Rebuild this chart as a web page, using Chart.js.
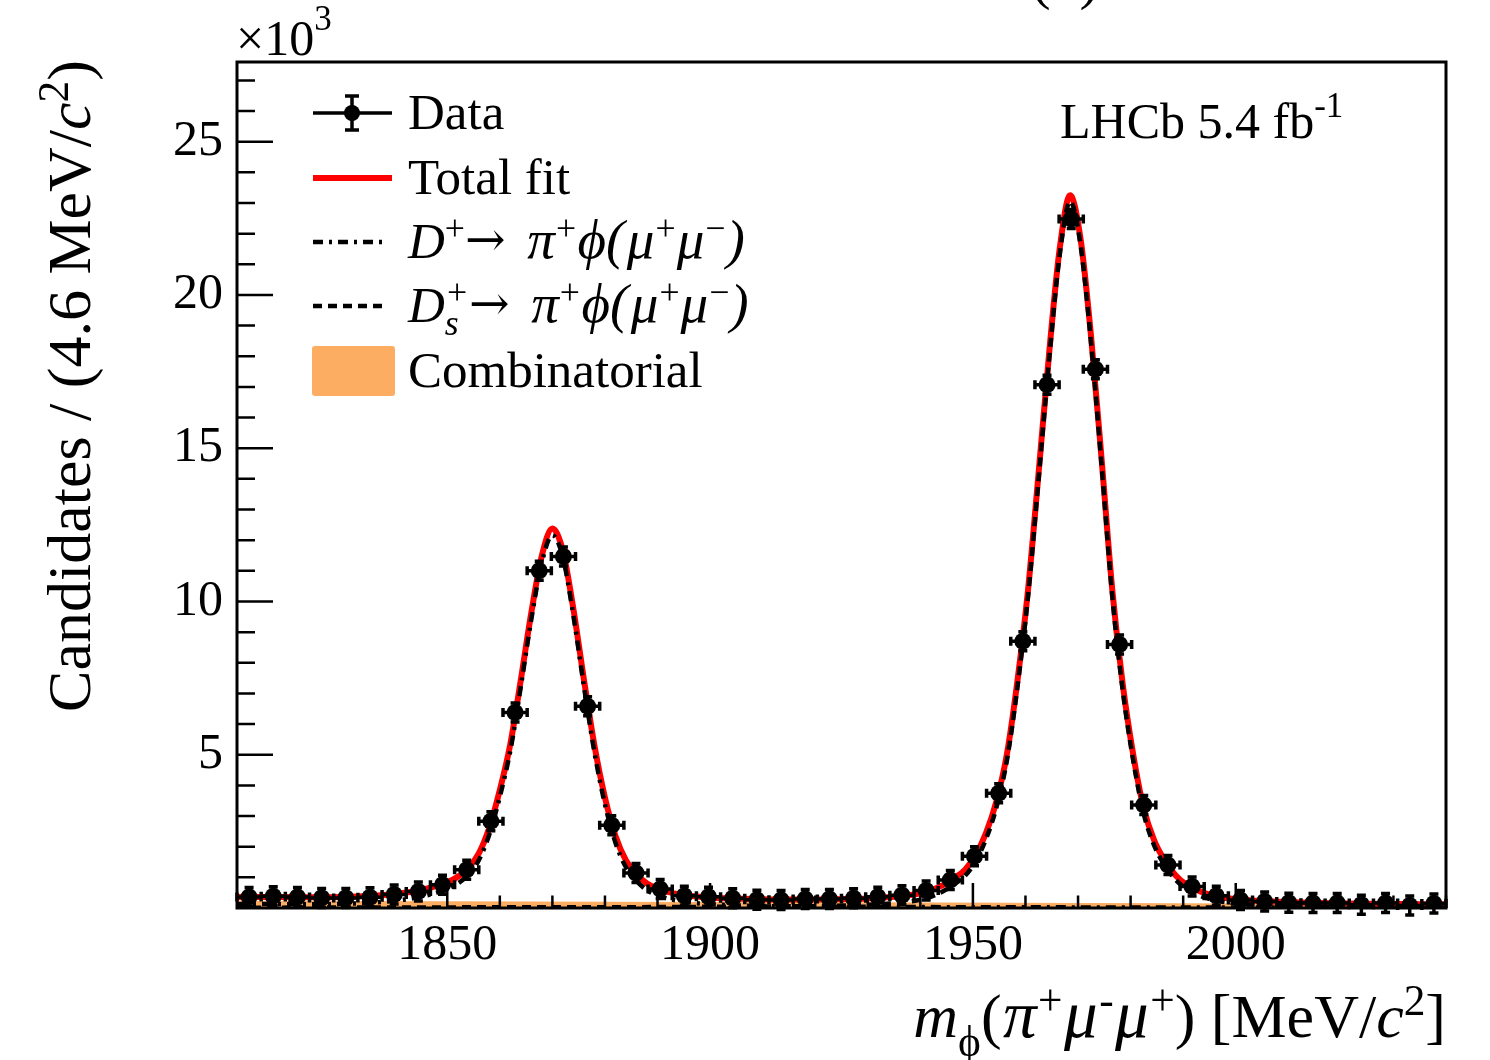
<!DOCTYPE html>
<html>
<head>
<meta charset="utf-8">
<title>m(pi mu mu) fit</title>
<script src="https://cdn.jsdelivr.net/npm/chart.js@4.4.1/dist/chart.umd.min.js"></script>
<style>
  html, body { margin: 0; padding: 0; background: #fff; }
  #wrap { width: 1490px; height: 1060px; }
</style>
</head>
<body>
<div id="wrap"><canvas id="massChart" width="1490" height="1060"></canvas></div>
<script>
// binned data (x10^3 candidates per 4.6 MeV/c2)
const binCenters = [1812.3, 1816.9, 1821.5, 1826.1, 1830.7, 1835.3, 1839.9, 1844.5, 1849.1, 1853.7,
  1858.3, 1862.9, 1867.5, 1872.1, 1876.7, 1881.3, 1885.9, 1890.5, 1895.1, 1899.7,
  1904.3, 1908.9, 1913.5, 1918.1, 1922.7, 1927.3, 1931.9, 1936.5, 1941.1, 1945.7,
  1950.3, 1954.9, 1959.5, 1964.1, 1968.7, 1973.3, 1977.9, 1982.5, 1987.1, 1991.7,
  1996.3, 2000.9, 2005.5, 2010.1, 2014.7, 2019.3, 2023.9, 2028.5, 2033.1, 2037.7];
const binHalfWidth = 2.3;
const counts = [0.36, 0.38, 0.36, 0.33, 0.33, 0.35, 0.44, 0.54, 0.76, 1.25,
  2.83, 6.38, 11.0, 11.47, 6.58, 2.70, 1.14, 0.62, 0.40, 0.37,
  0.32, 0.27, 0.26, 0.29, 0.29, 0.32, 0.37, 0.42, 0.57, 0.91,
  1.69, 3.74, 8.70, 17.07, 22.48, 17.58, 8.60, 3.36, 1.40, 0.70,
  0.40, 0.26, 0.21, 0.17, 0.16, 0.16, 0.11, 0.16, 0.08, 0.15];
const countErrors = [0.019, 0.019, 0.019, 0.018, 0.018, 0.019, 0.021, 0.023, 0.028, 0.035,
  0.053, 0.080, 0.105, 0.107, 0.081, 0.052, 0.034, 0.025, 0.020, 0.019,
  0.018, 0.016, 0.016, 0.017, 0.017, 0.018, 0.019, 0.020, 0.024, 0.030,
  0.041, 0.061, 0.093, 0.131, 0.150, 0.133, 0.093, 0.058, 0.037, 0.026,
  0.020, 0.016, 0.014, 0.013, 0.013, 0.013, 0.010, 0.013, 0.009, 0.012];

// total fit curve
const fitX = [1810, 1815, 1820, 1825, 1830, 1835, 1840, 1844, 1848, 1850,
  1852, 1854, 1856, 1858, 1860, 1862, 1864, 1866, 1868, 1870,
  1872, 1874, 1876, 1878, 1880, 1882, 1884, 1886, 1888, 1890,
  1894, 1898, 1903, 1910, 1918, 1926, 1932, 1937, 1941, 1944.5,
  1946.5, 1948.5, 1950.5, 1952.5, 1954.5, 1956.5, 1958.5, 1960.5, 1962.5, 1964.5,
  1966.5, 1968.5, 1970.5, 1972.5, 1974.5, 1976.5, 1978.5, 1980.5, 1982.5, 1984.5,
  1986.5, 1988.5, 1990.5, 1993.5, 1997, 2002, 2008, 2016, 2024, 2032,
  2040];
const totalFit = [0.36, 0.36, 0.355, 0.35, 0.36, 0.39, 0.46, 0.55, 0.72, 0.84,
  1.02, 1.30, 1.78, 2.62, 3.85, 5.35, 7.45, 9.65, 11.50, 12.38,
  11.65, 9.75, 7.45, 5.30, 3.60, 2.35, 1.55, 1.10, 0.80, 0.63,
  0.45, 0.37, 0.32, 0.285, 0.275, 0.29, 0.33, 0.40, 0.52, 0.76,
  0.98, 1.25, 1.72, 2.45, 3.50, 5.05, 7.45, 10.4, 14.2, 18.1,
  21.5, 23.25, 21.8, 18.6, 14.6, 10.4, 7.3, 5.0, 3.25, 2.2,
  1.55, 1.08, 0.78, 0.52, 0.36, 0.26, 0.20, 0.16, 0.14, 0.13,
  0.12];

// D+ component
const dpX = [1810, 1815, 1820, 1825, 1830, 1835, 1840, 1844, 1848, 1850,
  1852, 1854, 1856, 1858, 1860, 1862, 1864, 1866, 1868, 1870,
  1872, 1874, 1876, 1878, 1880, 1882, 1884, 1886, 1888, 1890,
  1894, 1898, 1903, 1910, 1918, 1926, 1940, 1970, 2000, 2040];
const dpFit = [0.13, 0.13, 0.125, 0.12, 0.135, 0.165, 0.24, 0.33, 0.50, 0.62,
  0.80, 1.08, 1.56, 2.40, 3.63, 5.13, 7.23, 9.43, 11.28, 12.16,
  11.43, 9.53, 7.23, 5.08, 3.38, 2.13, 1.33, 0.88, 0.58, 0.41,
  0.23, 0.15, 0.10, 0.065, 0.05, 0.04, 0.03, 0.02, 0.015, 0.01];

// Ds+ component
const dsX = [1810, 1850, 1890, 1910, 1926, 1937, 1941, 1944.5, 1946.5, 1948.5,
  1950.5, 1952.5, 1954.5, 1956.5, 1958.5, 1960.5, 1962.5, 1964.5, 1966.5, 1968.5,
  1970.5, 1972.5, 1974.5, 1976.5, 1978.5, 1980.5, 1982.5, 1984.5, 1986.5, 1988.5,
  1990.5, 1993.5, 1997, 2002, 2008, 2016, 2024, 2032, 2040];
const dsFit = [0.01, 0.02, 0.03, 0.05, 0.08, 0.19, 0.31, 0.56, 0.78, 1.05,
  1.52, 2.25, 3.30, 4.85, 7.25, 10.2, 14.0, 17.9, 21.3, 23.05,
  21.6, 18.4, 14.4, 10.2, 7.1, 4.81, 3.07, 2.03, 1.39, 0.93,
  0.64, 0.38, 0.22, 0.12, 0.065, 0.035, 0.022, 0.015, 0.01];

// combinatorial background
const combX = [1810, 1850, 1900, 1950, 2000, 2040];
const combFit = [0.22, 0.20, 0.18, 0.16, 0.13, 0.11];

// axis ticks
const xTicks = [1820, 1830, 1840, 1850, 1860, 1870, 1880, 1890, 1900, 1910, 1920, 1930,
  1940, 1950, 1960, 1970, 1980, 1990, 2000, 2010, 2020, 2030, 2040];
const xMajor = [1850, 1900, 1950, 2000];
const yTicks = [1, 2, 3, 4, 5, 6, 7, 8, 9, 10, 11, 12, 13, 14, 15, 16, 17, 18, 19, 20,
  21, 22, 23, 24, 25, 26, 27];
const yMajor = [5, 10, 15, 20, 25];

const SERIF = '"Liberation Serif", "Times New Roman", Times, serif';
const ORANGE = '#fcad62';

function xy(xs, ys) { return xs.map((x, i) => ({ x: x, y: ys[i] })); }

// --- rich text helpers (italic / super / subscripts) ---
const SMALL = 0.7;
function setFont(ctx, size, italic, family) {
    ctx.font = (italic ? 'italic ' : '') + size + 'px ' + (family || SERIF);
}
function segWidth(ctx, s, size) {
    const small = size * SMALL;
    if (s.sup !== undefined && s.sub !== undefined) {
        setFont(ctx, small, s.i);
        return Math.max(ctx.measureText(s.sup).width, ctx.measureText(s.sub).width);
    }
    if (s.sup !== undefined) { setFont(ctx, small, s.i); return ctx.measureText(s.sup).width; }
    if (s.sub !== undefined) { setFont(ctx, small, s.i); return ctx.measureText(s.sub).width; }
    setFont(ctx, size * (s.scale || 1), s.i, s.f);
    return ctx.measureText(s.t).width + (s.pad || 0);
}
function drawRich(ctx, segs, x, y, size, align) {
    let total = 0;
    segs.forEach(s => total += segWidth(ctx, s, size));
    let cx = x;
    if (align === 'right') cx = x - total;
    if (align === 'center') cx = x - total / 2;
    ctx.textAlign = 'left';
    ctx.textBaseline = 'alphabetic';
    const small = size * SMALL;
    segs.forEach(s => {
        const w = segWidth(ctx, s, size);
        if (s.sup !== undefined || s.sub !== undefined) {
            setFont(ctx, small, s.i);
            if (s.sup !== undefined) ctx.fillText(s.sup, cx, y - size * (s.up || 0.36));
            if (s.sub !== undefined) ctx.fillText(s.sub, cx, y + size * (s.down || 0.20));
        } else {
            setFont(ctx, size * (s.scale || 1), s.i, s.f);
            ctx.fillText(s.t, cx + (s.pad || 0) / 2, y + (s.dy || 0));
        }
        cx += w;
    });
}

const G = 1.08; // greek glyphs a bit wider, as in the figure
const decayTail = [{ t: '\u2192', f: '"DejaVu Serif", serif', scale: 0.95, dy: -2 }, { t: ' ', pad: 8 },
    { t: '\u03c0', i: true, scale: G, pad: 2 }, { sup: '+' }, { t: '\u03d5(', i: true, scale: G, pad: 3 },
    { t: '\u03bc', i: true, scale: G, pad: 2 }, { sup: '+' }, { t: '\u03bc', i: true, scale: G, pad: 2 },
    { sup: '\u2212' }, { t: ')', i: true, scale: G, pad: 2 }];
const dplusLabel = [{ t: 'D', i: true }, { sup: '+' }].concat(decayTail);
const dsLabel = [{ t: 'D', i: true }, { sup: '+', sub: 's', i: true, down: 0.26 }].concat(decayTail);
const yTitle = [{ t: 'Candidates / (4.6 MeV/' }, { t: 'c', i: true }, { sup: '2' }, { t: ')' }];
const xTitle = [{ t: 'm', i: true }, { sub: '\u03d5', down: 0.30 }, { t: '(' }, { t: '\u03c0', i: true, scale: G, pad: 3 },
    { sup: '+' }, { t: '\u03bc', i: true, scale: G, pad: 3 }, { sup: '-' }, { t: '\u03bc', i: true, scale: G, pad: 3 },
    { sup: '+' }, { t: ') [MeV/' }, { t: 'c', i: true }, { sup: '2' }, { t: ']' }];

// error bars, inward ticks, frame
const decorPlugin = {
    id: 'decor',
    afterDatasetsDraw(chart) {
        const { ctx, chartArea: a, scales: { x, y } } = chart;
        ctx.save();
        ctx.strokeStyle = '#000';
        ctx.lineWidth = 3.5;
        ctx.beginPath();
        binCenters.forEach((c, i) => {
            const px = x.getPixelForValue(c);
            const py = y.getPixelForValue(counts[i]);
            const x0 = x.getPixelForValue(c - binHalfWidth);
            const x1 = x.getPixelForValue(c + binHalfWidth);
            ctx.moveTo(x0, py); ctx.lineTo(x1, py);
            ctx.moveTo(x0, py - 4.5); ctx.lineTo(x0, py + 4.5);
            ctx.moveTo(x1, py - 4.5); ctx.lineTo(x1, py + 4.5);
            const e = Math.max(y.getPixelForValue(0) - y.getPixelForValue(countErrors[i]), 9.5);
            ctx.moveTo(px, py - e); ctx.lineTo(px, py + e);
            ctx.moveTo(px - 4.5, py - e); ctx.lineTo(px + 4.5, py - e);
            ctx.moveTo(px - 4.5, py + e); ctx.lineTo(px + 4.5, py + e);
        });
        ctx.stroke();

        ctx.lineWidth = 2.5;
        ctx.beginPath();
        xTicks.forEach(v => {
            const px = x.getPixelForValue(v);
            const len = xMajor.includes(v) ? 25 : 12.5;
            ctx.moveTo(px, a.bottom); ctx.lineTo(px, a.bottom - len);
        });
        yTicks.forEach(v => {
            const py = y.getPixelForValue(v);
            const len = yMajor.includes(v) ? 36 : 18;
            ctx.moveTo(a.left, py); ctx.lineTo(a.left + len, py);
        });
        ctx.stroke();
        ctx.lineWidth = 3;
        ctx.strokeRect(a.left, a.top, a.right - a.left, a.bottom - a.top);
        ctx.restore();
    },
    afterDraw(chart) {
        const ctx = chart.ctx;
        ctx.save();
        ctx.fillStyle = '#000';
        ctx.strokeStyle = '#000';

        // legend
        const rows = [113, 178, 242, 306, 371];
        ctx.lineWidth = 3.5;
        ctx.beginPath();
        ctx.moveTo(313, rows[0]); ctx.lineTo(392, rows[0]);
        ctx.moveTo(352, rows[0] - 17); ctx.lineTo(352, rows[0] + 17);
        ctx.moveTo(345, rows[0] - 17); ctx.lineTo(359, rows[0] - 17);
        ctx.moveTo(345, rows[0] + 17); ctx.lineTo(359, rows[0] + 17);
        ctx.stroke();
        ctx.beginPath(); ctx.arc(352, rows[0], 8, 0, Math.PI * 2); ctx.fill();

        ctx.strokeStyle = '#ff0000'; ctx.lineWidth = 6;
        ctx.beginPath(); ctx.moveTo(313, rows[1]); ctx.lineTo(392, rows[1]); ctx.stroke();

        ctx.strokeStyle = '#000'; ctx.lineWidth = 4.5;
        ctx.setLineDash([10, 6, 3, 6]);
        ctx.beginPath(); ctx.moveTo(313, rows[2]); ctx.lineTo(386, rows[2]); ctx.stroke();
        ctx.setLineDash([9, 6]);
        ctx.beginPath(); ctx.moveTo(313, rows[3]); ctx.lineTo(386, rows[3]); ctx.stroke();
        ctx.setLineDash([]);

        ctx.fillStyle = ORANGE;
        ctx.beginPath(); ctx.roundRect(312, rows[4] - 25, 83, 50, 3); ctx.fill();

        ctx.fillStyle = '#000';
        const lsz = 51;
        drawRich(ctx, [{ t: 'Data' }], 408, rows[0] + 16, lsz, 'left');
        drawRich(ctx, [{ t: 'Total fit' }], 408, rows[1] + 16, lsz, 'left');
        drawRich(ctx, dplusLabel, 408, rows[2] + 16, lsz, 'left');
        drawRich(ctx, dsLabel, 408, rows[3] + 16, lsz, 'left');
        drawRich(ctx, [{ t: 'Combinatorial' }], 408, rows[4] + 16, lsz, 'left');

        drawRich(ctx, [{ t: 'LHCb 5.4 fb' }, { sup: '-1', up: 0.42 }], 1060, 138, 50, 'left');
        drawRich(ctx, [{ t: '\u00d710' }, { sup: '3', up: 0.5 }], 236, 55, 50, 'left');
        drawRich(ctx, [{ t: '(b)' }], 1065, -2, 58, 'center');

        // axis titles
        drawRich(ctx, xTitle, 1446, 1037, 62, 'right');
        ctx.translate(90, 386);
        ctx.rotate(-Math.PI / 2);
        drawRich(ctx, yTitle, 0, 0, 62, 'center');
        ctx.restore();
    }
};

const tickFont = { family: SERIF, size: 50 };

new Chart(document.getElementById('massChart'), {
    type: 'line',
    data: {
        datasets: [
            {
                label: 'Data',
                data: xy(binCenters, counts),
                showLine: false,
                pointRadius: 8.5,
                pointHoverRadius: 8.5,
                pointBackgroundColor: '#000',
                pointBorderWidth: 0
            },
            {
                label: 'Ds',
                data: xy(dsX, dsFit),
                borderColor: '#000',
                borderWidth: 4.5,
                borderDash: [9, 6],
                pointRadius: 0,
                cubicInterpolationMode: 'monotone'
            },
            {
                label: 'D+',
                data: xy(dpX, dpFit),
                borderColor: '#000',
                borderWidth: 4.5,
                borderDash: [10, 6, 3, 6],
                pointRadius: 0,
                cubicInterpolationMode: 'monotone'
            },
            {
                label: 'Total fit',
                data: xy(fitX, totalFit),
                borderColor: '#ff0000',
                borderWidth: 6,
                pointRadius: 0,
                cubicInterpolationMode: 'monotone'
            },
            {
                label: 'Combinatorial',
                data: xy(combX, combFit),
                borderColor: ORANGE,
                backgroundColor: ORANGE,
                borderWidth: 1,
                fill: 'origin',
                pointRadius: 0,
                cubicInterpolationMode: 'monotone'
            }
        ]
    },
    options: {
        responsive: false,
        devicePixelRatio: 1,
        animation: false,
        layout: { padding: { left: 0, right: 44, top: 62, bottom: 0 } },
        plugins: { legend: { display: false }, tooltip: { enabled: false } },
        scales: {
            x: {
                type: 'linear',
                min: 1810,
                max: 2040,
                grid: { display: false, drawTicks: false },
                border: { display: false },
                afterBuildTicks: s => { s.ticks = xTicks.map(v => ({ value: v })); },
                afterFit: s => { s.height = 152; },
                ticks: {
                    font: tickFont,
                    color: '#000',
                    padding: 8,
                    maxRotation: 0,
                    autoSkip: false,
                    callback: v => xMajor.includes(v) ? String(v) : ''
                }
            },
            y: {
                type: 'linear',
                min: 0,
                max: 27.6,
                grid: { display: false, drawTicks: false },
                border: { display: false },
                afterBuildTicks: s => { s.ticks = yTicks.map(v => ({ value: v })); },
                afterFit: s => { s.width = 237; },
                ticks: {
                    font: tickFont,
                    color: '#000',
                    padding: 14,
                    autoSkip: false,
                    callback: v => yMajor.includes(v) ? String(v) : ''
                }
            }
        }
    },
    plugins: [decorPlugin]
});
</script>
</body>
</html>
